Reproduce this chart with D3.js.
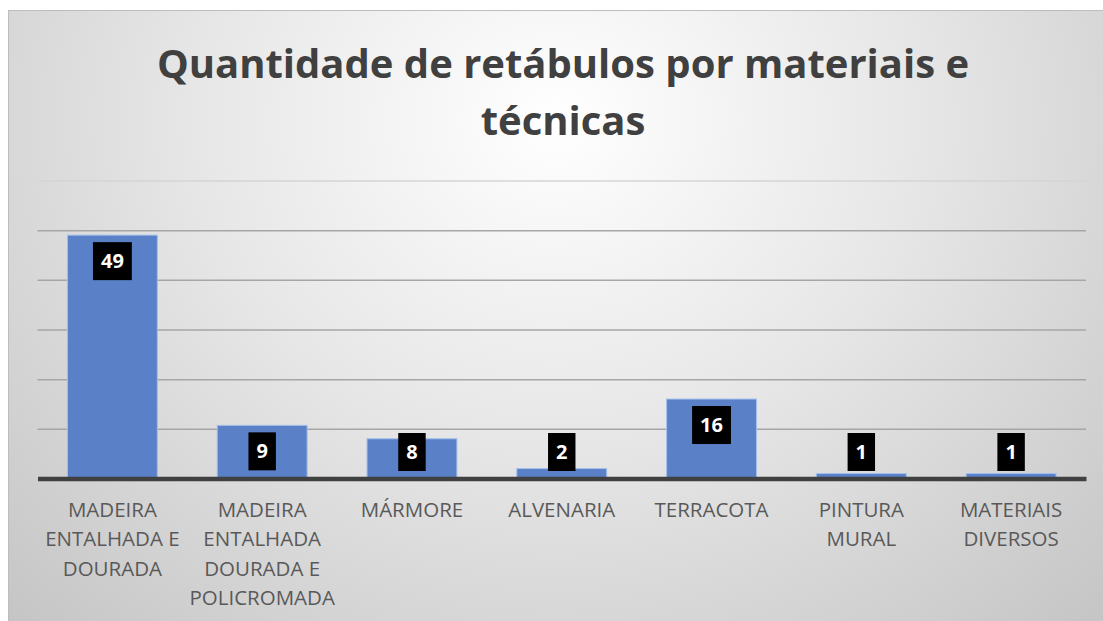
<!DOCTYPE html>
<html>
<head>
<meta charset="utf-8">
<script src="https://cdn.jsdelivr.net/npm/d3@7"></script>
<style>
  html, body { margin: 0; padding: 0; background: #ffffff; }
  svg { display: block; }
</style>
</head>
<body>
<svg id="chart"></svg>
<script>
// chart data
const categories = [
    "MADEIRA ENTALHADA E DOURADA",
    "MADEIRA ENTALHADA DOURADA E POLICROMADA",
    "MÁRMORE",
    "ALVENARIA",
    "TERRACOTA",
    "PINTURA MURAL",
    "MATERIAIS DIVERSOS"
];
// bar heights (the second bar is drawn taller than its label)
const values = [49, 10.7, 8, 2, 16, 1, 1];
// data labels as printed on the chart
const dataLabels = ["49", "9", "8", "2", "16", "1", "1"];
const yTicks = [0, 10, 20, 30, 40, 50, 60];
const titleLines = ["Quantidade de retábulos por materiais e", "técnicas"];

const width = 1103;
const height = 621;
const font = "'Open Sans', 'Noto Sans', sans-serif";

const svg = d3.select("#chart").attr("width", width).attr("height", height);

// background gradient (light in the middle top, grey at the sides)
const defs = svg.append("defs");
const grad = defs.append("radialGradient")
    .attr("id", "bg")
    .attr("cx", "50%").attr("cy", "18%")
    .attr("r", "75%")
    .attr("gradientTransform", "translate(0.5,0.18) scale(1,1.6) translate(-0.5,-0.18)");
grad.append("stop").attr("offset", "0%").attr("stop-color", "#ffffff");
grad.append("stop").attr("offset", "45%").attr("stop-color", "#e6e6e6");
grad.append("stop").attr("offset", "100%").attr("stop-color", "#c2c2c2");

svg.append("rect")
    .attr("x", 8).attr("y", 10)
    .attr("width", width - 8).attr("height", height - 10)
    .attr("fill", "url(#bg)");
svg.append("line")
    .attr("x1", 8).attr("x2", width).attr("y1", 10.5).attr("y2", 10.5)
    .attr("stroke", "#bdbdbd").attr("stroke-width", 1);
svg.append("line")
    .attr("x1", 8.5).attr("x2", 8.5).attr("y1", 10).attr("y2", height)
    .attr("stroke", "#bdbdbd").attr("stroke-width", 1);

// title
svg.append("g")
    .selectAll("text")
    .data(titleLines)
    .enter()
    .append("text")
    .attr("x", 563)
    .attr("y", (d, i) => 78 + i * 57)
    .attr("text-anchor", "middle")
    .style("font-family", font)
    .style("font-weight", "bold")
    .style("font-size", "40px")
    .attr("fill", "#404040")
    .text(d => d);

// scales
const xScale = d3.scaleBand()
    .domain(categories)
    .range([37.5, 1086])
    .paddingInner(0.4)
    .paddingOuter(0.2);

const yScale = d3.scaleLinear()
    .domain([0, 60])
    .range([478.5, 180.5]);

// gridlines
svg.append("g")
    .attr("class", "grid")
    .attr("transform", "translate(37.5,0)")
    .call(d3.axisLeft(yScale).tickValues(yTicks.slice(1)).tickSize(-(1086 - 37.5)).tickFormat(""))
    .call(g => g.select(".domain").remove())
    .call(g => g.selectAll(".tick line")
        .attr("stroke", d => d === 60 ? "#d4d4d4" : "#a6a6a6")
        .attr("stroke-width", 1.5));

// bars
svg.append("g")
    .selectAll(".bar")
    .data(values)
    .enter()
    .append("rect")
    .attr("class", "bar")
    .attr("x", (d, i) => xScale(categories[i]))
    .attr("y", d => yScale(d))
    .attr("width", xScale.bandwidth())
    .attr("height", d => yScale(0) - yScale(d))
    .attr("fill", "#5a80c8")
    .attr("stroke", "#a3bfec")
    .attr("stroke-width", 1);

// baseline
svg.append("g")
    .attr("transform", `translate(0,${yScale(0)})`)
    .call(d3.axisBottom(xScale).tickSize(0).tickFormat(""))
    .call(g => g.select(".domain").attr("stroke", "#404040").attr("stroke-width", 4.5));

// data labels (black boxes, inside end)
const labels = svg.append("g")
    .selectAll(".label")
    .data(values)
    .enter()
    .append("g")
    .attr("class", "label")
    .attr("transform", (d, i) => {
        const cx = xScale(categories[i]) + xScale.bandwidth() / 2;
        const top = Math.min(yScale(d) + 7, yScale(0) - 45.5);
        return `translate(${cx},${top})`;
    });

labels.append("rect").attr("fill", "#000000");
labels.append("text")
    .attr("x", 0)
    .attr("y", 26)
    .attr("text-anchor", "middle")
    .style("font-family", font)
    .style("font-weight", "bold")
    .style("font-size", "20px")
    .attr("fill", "#ffffff")
    .text((d, i) => dataLabels[i]);

labels.each(function () {
    const g = d3.select(this);
    const w = g.select("text").node().getComputedTextLength() + 16;
    g.select("rect").attr("x", -w / 2).attr("y", 0).attr("width", w).attr("height", 38);
});

// category labels, wrapped like excel does
function wrapWords(text, maxWidth, measure) {
    const words = text.split(" ");
    const lines = [];
    let line = "";
    words.forEach(word => {
        const test = line ? line + " " + word : word;
        if (line && measure(test) > maxWidth) {
            lines.push(line);
            line = word;
        } else {
            line = test;
        }
    });
    if (line) lines.push(line);
    return lines;
}

const measurer = svg.append("text")
    .style("font-family", font)
    .style("font-size", "20.5px");
const measure = s => measurer.text(s).node().getComputedTextLength();

const xLabels = svg.append("g")
    .selectAll(".xlabel")
    .data(categories)
    .enter()
    .append("text")
    .attr("class", "xlabel")
    .attr("text-anchor", "middle")
    .style("font-family", font)
    .style("font-size", "20.5px")
    .attr("fill", "#595959");

xLabels.each(function (d) {
    const lines = wrapWords(d, xScale.step() - 2, measure);
    const cx = xScale(d) + xScale.bandwidth() / 2;
    d3.select(this)
        .selectAll("tspan")
        .data(lines)
        .enter()
        .append("tspan")
        .attr("x", cx)
        .attr("y", (l, i) => 517 + i * 29.3)
        .text(l => l);
});

measurer.remove();
</script>
</body>
</html>
